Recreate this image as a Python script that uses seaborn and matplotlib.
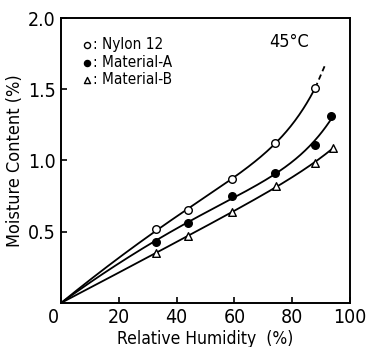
import numpy as np
import pandas as pd
import matplotlib
matplotlib.use("Agg")
import matplotlib.pyplot as plt
import matplotlib.transforms as mtransforms
import seaborn as sns

# humidity (%) and moisture content (%)
rh_nylon = [33, 44, 59, 74, 88]
mc_nylon = [0.52, 0.65, 0.87, 1.12, 1.51]
rh_a = [33, 44, 59, 74, 88, 93.5]
mc_a = [0.43, 0.56, 0.75, 0.915, 1.11, 1.31]
rh_b = [33, 44, 59, 74.5, 88, 94]
mc_b = [0.35, 0.47, 0.64, 0.82, 0.98, 1.09]
# dashed extension of the Nylon 12 curve
rh_ext = [88, 91.6]
mc_ext = [1.51, 1.68]

sns.set_style("ticks")
plt.rcParams['font.family'] = ['DejaVu Sans']
plt.rcParams['font.stretch'] = 'condensed'
plt.rcParams['text.color'] = 'black'
plt.rcParams['axes.labelcolor'] = 'black'
plt.rcParams['xtick.color'] = 'black'
plt.rcParams['ytick.color'] = 'black'

fig = plt.figure(figsize=(3.68, 3.47), dpi=100)
ax = fig.add_axes([0.166, 0.127, 0.785, 0.821])


def fitted(rh, mc):
    # least-squares isotherm through the origin: a x + b x^2 + c x^8
    x = np.asarray(rh) / 100
    X = np.c_[x, x**2, x**8]
    coef = np.linalg.lstsq(X, np.asarray(mc), rcond=None)[0]
    xs = np.linspace(0, x[-1], 300)
    ys = np.c_[xs, xs**2, xs**8] @ coef
    return pd.DataFrame({"rh": xs * 100, "mc": ys})


for rh, mc in [(rh_nylon, mc_nylon), (rh_a, mc_a), (rh_b, mc_b)]:
    sns.lineplot(data=fitted(rh, mc), x="rh", y="mc", ax=ax,
                 color="black", lw=1.3, sort=False)

ax.plot(rh_ext, mc_ext, color="black", lw=1.3, ls=(0, (3, 2)))

sns.scatterplot(x=rh_nylon, y=mc_nylon, ax=ax, marker="o", s=30,
                facecolor="white", edgecolor="black", linewidth=1, zorder=3,
                label=": Nylon 12")
sns.scatterplot(x=rh_a, y=mc_a, ax=ax, marker="o", s=30,
                color="black", edgecolor="black", linewidth=1, zorder=3,
                label=": Material-A")
sns.scatterplot(x=rh_b, y=mc_b, ax=ax, marker="^", s=30,
                facecolor="white", edgecolor="black", linewidth=1, zorder=3,
                label=": Material-B")

ax.set_xlim(0, 100)
ax.set_ylim(0, 2.0)
ax.set_xticks([0, 20, 40, 60, 80, 100])
ax.set_xticklabels(["0", "20", "40", "60", "80", "100"])
ax.set_yticks([0.5, 1.0, 1.5, 2.0])
ax.set_yticklabels(["0.5", "1.0", "1.5", "2.0"])
ax.tick_params(direction="in", length=4, width=1.2, labelsize=14, pad=4)
for s in ax.spines.values():
    s.set_linewidth(1.4)
    s.set_color("black")

# the corner "0" sits a little left of the origin
zero = ax.get_xticklabels()[0]
zero.set_transform(zero.get_transform() +
                   mtransforms.ScaledTranslation(-8 / 100, 0, fig.dpi_scale_trans))

ax.set_xlabel("Relative Humidity  (%)", fontsize=12.5, labelpad=2)
ax.set_ylabel("Moisture Content (%)", fontsize=13, labelpad=3)

ax.text(0.79, 0.915, "45°C", transform=ax.transAxes, fontsize=13,
        ha="center", va="center")

leg = ax.legend(loc="upper left", bbox_to_anchor=(0.02, 0.97), frameon=False,
                fontsize=11, handletextpad=-0.2, labelspacing=0.15,
                borderaxespad=0.3, handlelength=1.2, markerscale=0.8)

fig.savefig("out.png", dpi=100)
